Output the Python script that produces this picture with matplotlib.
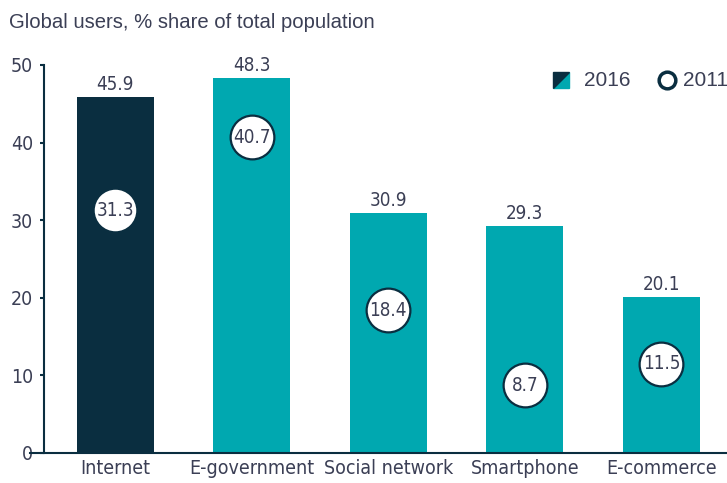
import matplotlib
matplotlib.use("Agg")
from matplotlib import pyplot as plt
from matplotlib import font_manager as fm
from matplotlib.patches import Polygon

categories = ["Internet", "E-government", "Social network", "Smartphone", "E-commerce"]
share_2016 = [45.9, 48.3, 30.9, 29.3, 20.1]
share_2011 = [31.3, 40.7, 18.4, 8.7, 11.5]
yticks = [0, 10, 20, 30, 40, 50]

dark = "#0a2e40"
teal = "#00a8b0"
txt = "#3b3f55"

# pick a narrow font if one is installed
names = {f.name for f in fm.fontManager.ttflist}
narrow_fam = "Liberation Sans Narrow" if "Liberation Sans Narrow" in names else "DejaVu Sans"
nf = dict(family=narrow_fam, stretch="condensed")

fig = plt.figure(figsize=(7.27, 4.83), dpi=100)
ax = fig.add_axes([30/727, 30/483, 697/727, 388/483])

for s in ["top", "right"]:
    ax.spines[s].set_visible(False)
ax.spines["left"].set_position(("data", -0.52))
ax.spines["left"].set_color(dark)
ax.spines["left"].set_linewidth(1.5)
ax.spines["bottom"].set_color(dark)
ax.spines["bottom"].set_linewidth(1.5)

x = list(range(len(categories)))
colors = [dark] + [teal] * (len(categories) - 1)
ax.bar(x, share_2016, width=0.565, color=colors, zorder=2)

# 2016 values above bars
for xi, v in zip(x, share_2016):
    ax.annotate(f"{v}", (xi, v), xytext=(0, 2), textcoords="offset points",
                ha="center", va="bottom", fontsize=13.5, color=txt, **nf)

# 2011 values as circles
for xi, v in zip(x, share_2011):
    ax.plot(xi, v, "o", ms=31.5, mfc="white", mec=dark, mew=1.6, zorder=3)
    ax.text(xi, v, f"{v}", ha="center", va="center", fontsize=13.5, color=txt,
            zorder=4, **nf)

ax.set_xlim(-0.623, 4.48)
ax.set_ylim(0, 50)
ax.set_xticks(x)
ax.set_xticklabels(categories, fontsize=14, color=txt, **nf)
ax.set_yticks(yticks)
ax.set_yticklabels([str(t) for t in yticks], fontsize=14, color=txt, **nf)
ax.tick_params(axis="x", length=0, pad=4)
ax.tick_params(axis="y", length=3, width=1.5, color=dark, pad=5)

# title
fig.text(9/727, 1 - 23/483, "Global users, % share of total population",
         fontsize=14.6, color=txt, va="center", ha="left", family="Liberation Sans")

# legend: split square + circle
sq = [553/727, 1 - 88/483, 16/727, 16/483]
fig.patches.append(Polygon([[sq[0], sq[1]], [sq[0] + sq[2], sq[1]], [sq[0] + sq[2], sq[1] + sq[3]]],
                           closed=True, transform=fig.transFigure, color=teal))
fig.patches.append(Polygon([[sq[0], sq[1]], [sq[0], sq[1] + sq[3]], [sq[0] + sq[2], sq[1] + sq[3]]],
                           closed=True, transform=fig.transFigure, color=dark))
fig.text(584/727, 1 - 80/483, "2016", fontsize=15, color=txt, va="center",
         family="Liberation Sans")
lax = fig.add_axes([0, 0, 1, 1], facecolor="none")
lax.set_axis_off()
lax.set_xlim(0, 1)
lax.set_ylim(0, 1)
lax.plot(667/727, 1 - 80/483, "o", ms=12, mfc="white", mec=dark, mew=2.5)
fig.text(683/727, 1 - 80/483, "2011", fontsize=15, color=txt, va="center",
         family="Liberation Sans")

fig.savefig("out.png", dpi=100)
